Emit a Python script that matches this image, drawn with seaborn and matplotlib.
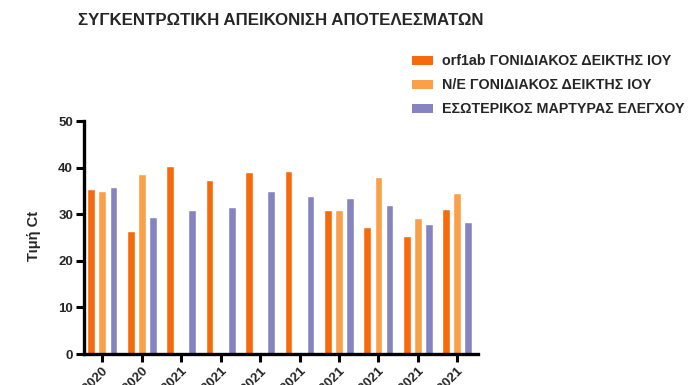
import numpy as np
import pandas as pd
import seaborn as sns
from matplotlib import pyplot as plt
from matplotlib.patches import Patch

# Sample dates (only the year part is visible in the original)
dates = ['28/12/2020', '30/12/2020', '04/01/2021', '07/01/2021', '11/01/2021',
         '14/01/2021', '18/01/2021', '21/01/2021', '25/01/2021', '28/01/2021']
series = ['orf1ab ΓΟΝΙΔΙΑΚΟΣ ΔΕΙΚΤΗΣ ΙΟΥ', 'N/E ΓΟΝΙΔΙΑΚΟΣ ΔΕΙΚΤΗΣ ΙΟΥ',
          'ΕΣΩΤΕΡΙΚΟΣ ΜΑΡΤΥΡΑΣ ΕΛΕΓΧΟΥ']
orf1ab = [35.4, 26.5, 40.4, 37.4, 39.1, 39.3, 30.9, 27.3, 25.3, 31.2]
ne_gene = [34.9, 38.6, 0, 0, 0, 0, 30.9, 38.1, 29.1, 34.6]
control = [35.9, 29.5, 31.0, 31.6, 35.0, 33.9, 33.5, 31.9, 27.9, 28.4]
colors = ['#F76A0B', '#F9A049', '#8684C0']

df = pd.DataFrame({'date': dates * 3,
                   'series': np.repeat(series, len(dates)),
                   'ct': orf1ab + ne_gene + control})

sns.set_style('white')
plt.rcParams['font.family'] = ['Liberation Sans', 'DejaVu Sans']
plt.rcParams['font.weight'] = 'bold'

fig = plt.figure(figsize=(6.96, 3.85), dpi=100)
ax = fig.add_axes([0.121, 0.0805, 0.566, 0.605])

sns.barplot(data=df, x='date', y='ct', hue='series', palette=colors,
            saturation=1, width=0.84, gap=0.3, ax=ax, legend=False)

ax.set_xlim(-0.46, 9.53)
ax.set_ylim(0, 50)
ax.set_yticks([0, 10, 20, 30, 40, 50])
ax.set_xlabel('')
ax.set_ylabel('Τιμή Ct', fontsize=10.5, fontweight='bold')
ax.yaxis.set_label_coords(-0.11, 0.505)
sns.despine(ax=ax)
for side in ['left', 'bottom']:
    ax.spines[side].set_linewidth(2.4)
    ax.spines[side].set_color('black')
ax.tick_params(axis='both', direction='out', length=6, width=2.2, color='black',
               labelsize=9.5, pad=2, left=True, bottom=True)
plt.setp(ax.get_xticklabels(), rotation=45, ha='right', rotation_mode='anchor',
         fontweight='bold')
plt.setp(ax.get_yticklabels(), fontweight='bold')

fig.text(0.112, 0.948, 'ΣΥΓΚΕΝΤΡΩΤΙΚΗ ΑΠΕΙΚΟΝΙΣΗ ΑΠΟΤΕΛΕΣΜΑΤΩΝ',
         fontsize=12.2, fontweight='bold', va='center')

handles = [Patch(facecolor=c, edgecolor='none') for c in colors]
fig.legend(handles, series, loc='upper left', bbox_to_anchor=(0.574, 0.892),
           frameon=False, handlelength=1.45, handleheight=0.55,
           labelspacing=0.7, handletextpad=0.65, prop={'weight': 'bold', 'size': 10.3})

fig.savefig('out.png', dpi=100)
